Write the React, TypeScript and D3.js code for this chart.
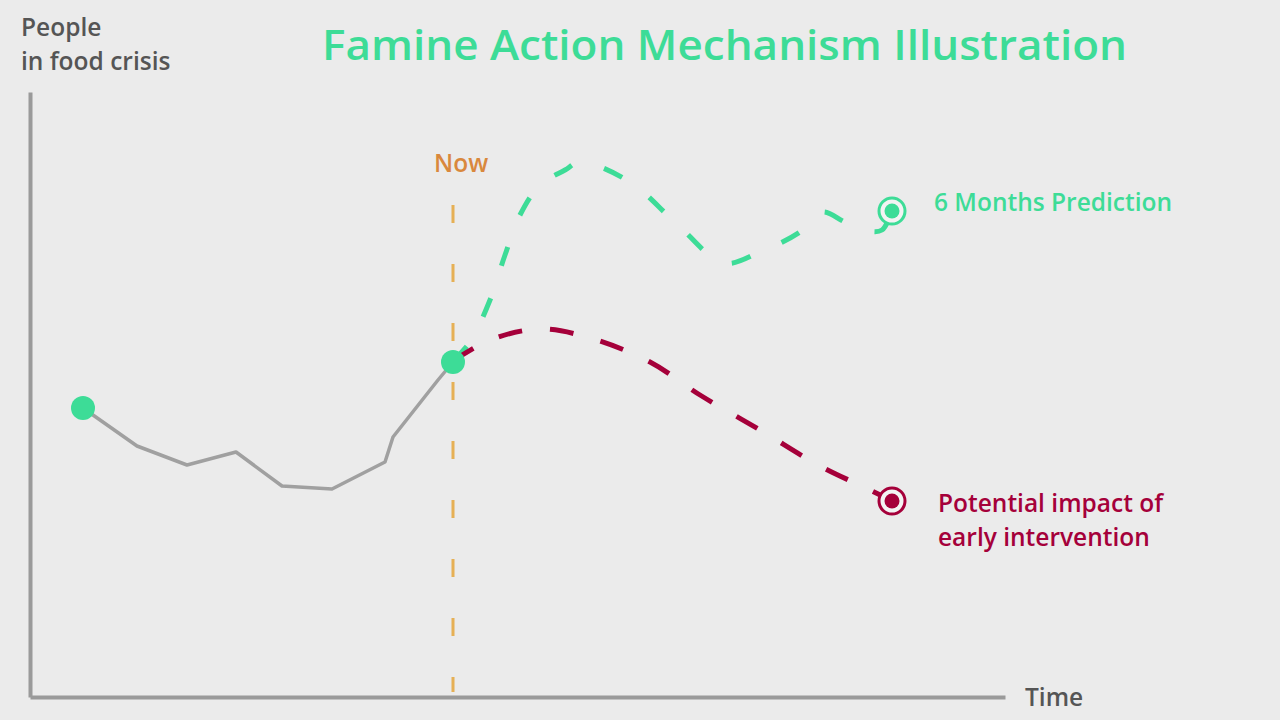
import React, { useRef, useEffect } from "react";
import * as d3 from "d3";

// time (x) and people in crisis (y), arbitrary units
const historyX = [53, 107, 157, 206, 252, 302, 355, 363, 408, 423];
const historyY = [289, 251, 232, 245, 211, 208, 235, 260, 317, 335];

const predictionX = [423, 440, 460, 475, 490, 510, 535, 550, 600, 645, 694, 730, 770, 792, 815, 838, 852, 862];
const predictionY = [336, 355, 397, 442, 482, 512, 527, 535, 515, 475, 434, 445, 465, 485, 475, 466, 467, 486];

const interventionX = [423, 460, 510, 560, 620, 670, 730, 790, 840, 862];
const interventionY = [336, 357, 368, 359, 335, 302, 267, 231, 207, 196];

const nowX = 423;
const nowRange = [492, 5];

const W = 1280;
const H = 720;
const GREEN = "#3ddc97";
const RED = "#a5003a";
const GREY = "#a0a0a0";
const FONT = "'Open Sans', sans-serif";

const App: React.FC = () => {
  const svgRef = useRef<SVGSVGElement | null>(null);

  useEffect(() => {
    if (!svgRef.current) return;
    const svg = d3.select(svgRef.current);
    svg.selectAll("*").remove();

    const x = d3.scaleLinear().domain([0, 975]).range([30, 1005]);
    const y = d3.scaleLinear().domain([0, 605]).range([697, 92]);

    svg.append("rect").attr("width", W).attr("height", H).attr("fill", "#ebebeb");

    // axes (no ticks, just the domain lines)
    const xAxis = svg
      .append("g")
      .attr("transform", `translate(0, ${y(0)})`)
      .call(d3.axisBottom(x).ticks(0).tickSizeOuter(0));
    const yAxis = svg
      .append("g")
      .attr("transform", `translate(${x(0)}, 0)`)
      .call(d3.axisLeft(y).ticks(0).tickSizeOuter(0));
    [xAxis, yAxis].forEach((g) =>
      g.select(".domain").attr("stroke", "#9a9a9a").attr("stroke-width", 4)
    );

    // "now" marker
    svg
      .append("line")
      .attr("x1", x(nowX))
      .attr("x2", x(nowX))
      .attr("y1", y(nowRange[0]))
      .attr("y2", y(nowRange[1]))
      .attr("stroke", "#e6b055")
      .attr("stroke-width", 3)
      .attr("stroke-dasharray", "18,41");

    const line = d3
      .line<[number, number]>()
      .x((d) => x(d[0]))
      .y((d) => y(d[1]))
      .curve(d3.curveCatmullRom.alpha(0.5));

    const zip = (a: number[], b: number[]) => a.map((v, i) => [v, b[i]] as [number, number]);

    svg
      .append("path")
      .attr("d", d3.line<[number, number]>().x((d) => x(d[0])).y((d) => y(d[1]))(zip(historyX, historyY)))
      .attr("fill", "none")
      .attr("stroke", GREY)
      .attr("stroke-width", 3.5)
      .attr("stroke-linejoin", "round");

    svg
      .append("path")
      .attr("d", line(zip(predictionX, predictionY)))
      .attr("fill", "none")
      .attr("stroke", GREEN)
      .attr("stroke-width", 5)
      .attr("stroke-dasharray", "20,34");

    svg
      .append("path")
      .attr("d", line(zip(interventionX, interventionY)))
      .attr("fill", "none")
      .attr("stroke", RED)
      .attr("stroke-width", 5)
      .attr("stroke-dasharray", "24,28");

    // dots
    svg
      .selectAll(".dot")
      .data([0, historyX.length - 1])
      .enter()
      .append("circle")
      .attr("cx", (i) => x(historyX[i]))
      .attr("cy", (i) => y(historyY[i]))
      .attr("r", 12)
      .attr("fill", GREEN);

    const ends = [
      { v: [predictionX[predictionX.length - 1], predictionY[predictionY.length - 1]], c: GREEN },
      { v: [interventionX[interventionX.length - 1], interventionY[interventionY.length - 1]], c: RED },
    ];
    ends.forEach((e) => {
      svg
        .append("circle")
        .attr("cx", x(e.v[0]))
        .attr("cy", y(e.v[1]))
        .attr("r", 13)
        .attr("fill", "#f3f3f3")
        .attr("stroke", e.c)
        .attr("stroke-width", 3);
      svg
        .append("circle")
        .attr("cx", x(e.v[0]))
        .attr("cy", y(e.v[1]))
        .attr("r", 7.5)
        .attr("fill", e.c);
    });

    const text = (t: string, px: number, py: number, color: string, size = 24.5, w = 600) =>
      svg
        .append("text")
        .attr("x", px)
        .attr("y", py)
        .attr("fill", color)
        .attr("font-family", FONT)
        .attr("font-size", size)
        .attr("font-weight", w)
        .text(t);

    text("People", 21, 36, "#555");
    text("in food crisis", 21, 70, "#555");
    text("Time", 1025, 706, "#555");
    text("Famine Action Mechanism Illustration", 322, 60, GREEN, 42, 600)
      .attr("textLength", 805)
      .attr("lengthAdjust", "spacingAndGlyphs");
    text("Now", 434, 172, "#d9883d");
    text("6 Months Prediction", 934, 211, GREEN);
    text("Potential impact of", 938, 512, RED);
    text("early intervention", 938, 546, RED);
  }, []);

  return (
    <svg
      ref={svgRef}
      width={W}
      height={H}
      style={{ position: "absolute", left: 0, top: 0 }}
    ></svg>
  );
};

export default App;
